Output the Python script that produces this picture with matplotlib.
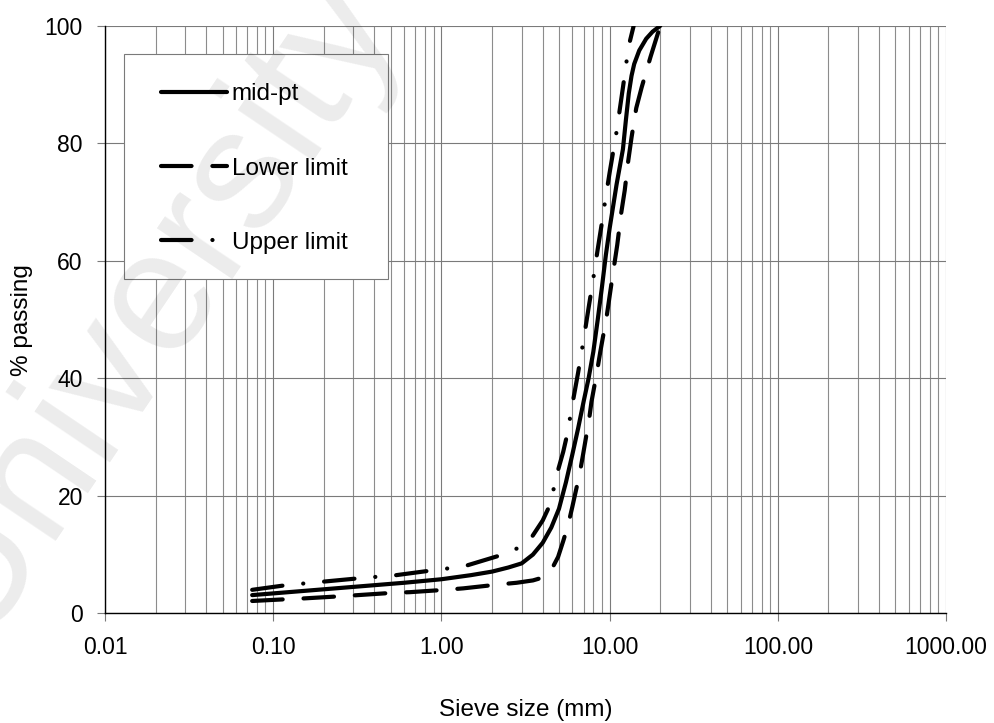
import numpy as np
import matplotlib
matplotlib.use("Agg")
import matplotlib.pyplot as plt
from matplotlib.patches import Rectangle
from matplotlib.ticker import FixedLocator, LogLocator, NullFormatter, FuncFormatter

plt.rcParams['font.family'] = ['Liberation Sans', 'DejaVu Sans']
plt.rcParams['lines.scale_dashes'] = False

mid_size = [0.075, 0.15, 0.3, 0.6, 1.0, 1.5, 2.0, 2.5, 3.0, 3.5, 4.0, 4.5, 5.0,
            5.5, 6.0, 6.5, 7.0, 7.5, 8.0, 8.5, 9.0, 9.5, 10.0, 11.0, 12.0, 12.5,
            13.0, 13.5, 14.0, 15.0, 16.5, 18.0, 20.0]
mid_pass = [3.1, 3.8, 4.5, 5.2, 5.8, 6.5, 7.1, 7.8, 8.5, 10.0, 12.0, 14.6, 17.8,
            22.3, 27.0, 31.5, 36.0, 40.0, 44.5, 50.0, 55.5, 61.0, 65.5, 73.0, 79.0, 84.0,
            88.5, 91.5, 93.5, 95.8, 97.8, 99.0, 100.0]

low_size = [0.075, 0.12, 0.155, 0.25, 0.32, 0.52, 0.65, 1.05, 1.35, 2.17, 2.8,
            3.5, 3.85, 4.3, 4.6, 4.94, 5.3, 5.66, 6.0, 6.64, 6.95, 7.55, 7.8, 8.4,
            8.8, 9.6, 10.3, 11.1, 11.7, 12.3, 12.9, 13.5, 14.4, 15.5, 17.5, 20.0]
low_pass = [2.1, 2.4, 2.55, 2.9, 3.1, 3.5, 3.6, 4.0, 4.25, 4.9, 5.2,
            5.6, 5.95, 6.8, 7.9, 9.6, 12.3, 15.0, 18.1, 23.8, 27.0, 33.0, 36.0, 41.0,
            44.5, 50.5, 56.5, 62.7, 68.0, 72.0, 77.0, 81.0, 86.0, 89.5, 94.7, 100.0]

up_size = [0.075, 0.12, 0.2, 0.32, 0.54, 0.85, 1.1, 1.4, 2.2, 2.85, 3.45, 4.0,
           4.36, 4.66, 4.94, 5.3, 5.6, 6.0, 6.5, 7.0, 7.5, 8.0, 8.5, 9.0, 9.5,
           10.0, 11.0, 12.0, 12.6, 13.1, 13.9]
up_pass = [4.0, 4.8, 5.4, 5.95, 6.5, 7.25, 7.65, 8.1, 9.8, 11.1, 13.0, 15.8,
           18.1, 21.3, 24.4, 27.5, 30.5, 35.5, 41.0, 46.5, 52.0, 57.0, 62.0, 66.5, 71.0,
           75.0, 82.0, 89.5, 93.9, 97.0, 100.0]

x_ticks = [0.01, 0.1, 1, 10, 100, 1000]
y_ticks = [0, 20, 40, 60, 80, 100]

fig = plt.figure(figsize=(9.95, 7.23), dpi=100, facecolor='white')
ax = fig.add_axes([0.1055, 0.1517, 0.8453, 0.8126])

lw = 3.0
ax.plot(mid_size, mid_pass, color='black', lw=lw, solid_capstyle='round',
        label='mid-pt', zorder=3)
ax.plot(low_size, low_pass, color='black', lw=lw, dash_capstyle='round',
        dashes=(22, 15), label='Lower limit', zorder=3)
ax.plot(up_size, up_pass, color='black', lw=lw, dash_capstyle='round',
        dashes=(22, 15, 0.1, 15), label='Upper limit', zorder=3)

ax.set_xscale('log')
ax.set_xlim(0.01, 1000)
ax.set_ylim(0, 100)
ax.xaxis.set_major_locator(FixedLocator(x_ticks))
ax.xaxis.set_major_formatter(FuncFormatter(lambda v, p: f"{v:.2f}"))
ax.xaxis.set_minor_locator(LogLocator(base=10, subs=np.arange(2, 10), numticks=20))
ax.xaxis.set_minor_formatter(NullFormatter())
ax.set_yticks(y_ticks)

ax.grid(True, which='major', color='#7a7a7a', lw=0.8)
ax.grid(True, which='minor', axis='x', color='#8c8c8c', lw=0.8)
ax.tick_params(which='major', length=6, width=0.8, color='#7a7a7a',
               labelsize=16.5, pad=10)
ax.tick_params(which='minor', length=0)
for s in ['top', 'right']:
    ax.spines[s].set_visible(False)
for s in ['left', 'bottom']:
    ax.spines[s].set_color('black')
    ax.spines[s].set_linewidth(1.0)

ax.set_xlabel('Sieve size (mm)', fontsize=17.5, labelpad=29)
ax.set_ylabel('% passing', fontsize=17.5, labelpad=8)

# legend box drawn separately so its padding can be set freely
ax.add_patch(Rectangle((0.0226, 0.569), 0.3139, 0.383, transform=ax.transAxes,
                       facecolor='white', edgecolor='#7a7a7a', lw=0.8, zorder=4))
leg = ax.legend(loc='center left', bbox_to_anchor=(0.0666, 0.757), fontsize=17.5,
                frameon=False, handlelength=2.71, handletextpad=0.2,
                labelspacing=2.15, borderpad=0, borderaxespad=0)
leg.set_zorder(5)

# faint watermark across the left part of the figure
fig.text(0.15, 0.58, 'University', fontsize=124, color='black', alpha=0.08,
         rotation=56, ha='center', va='center', zorder=10)

fig.savefig('out.png', dpi=100)
